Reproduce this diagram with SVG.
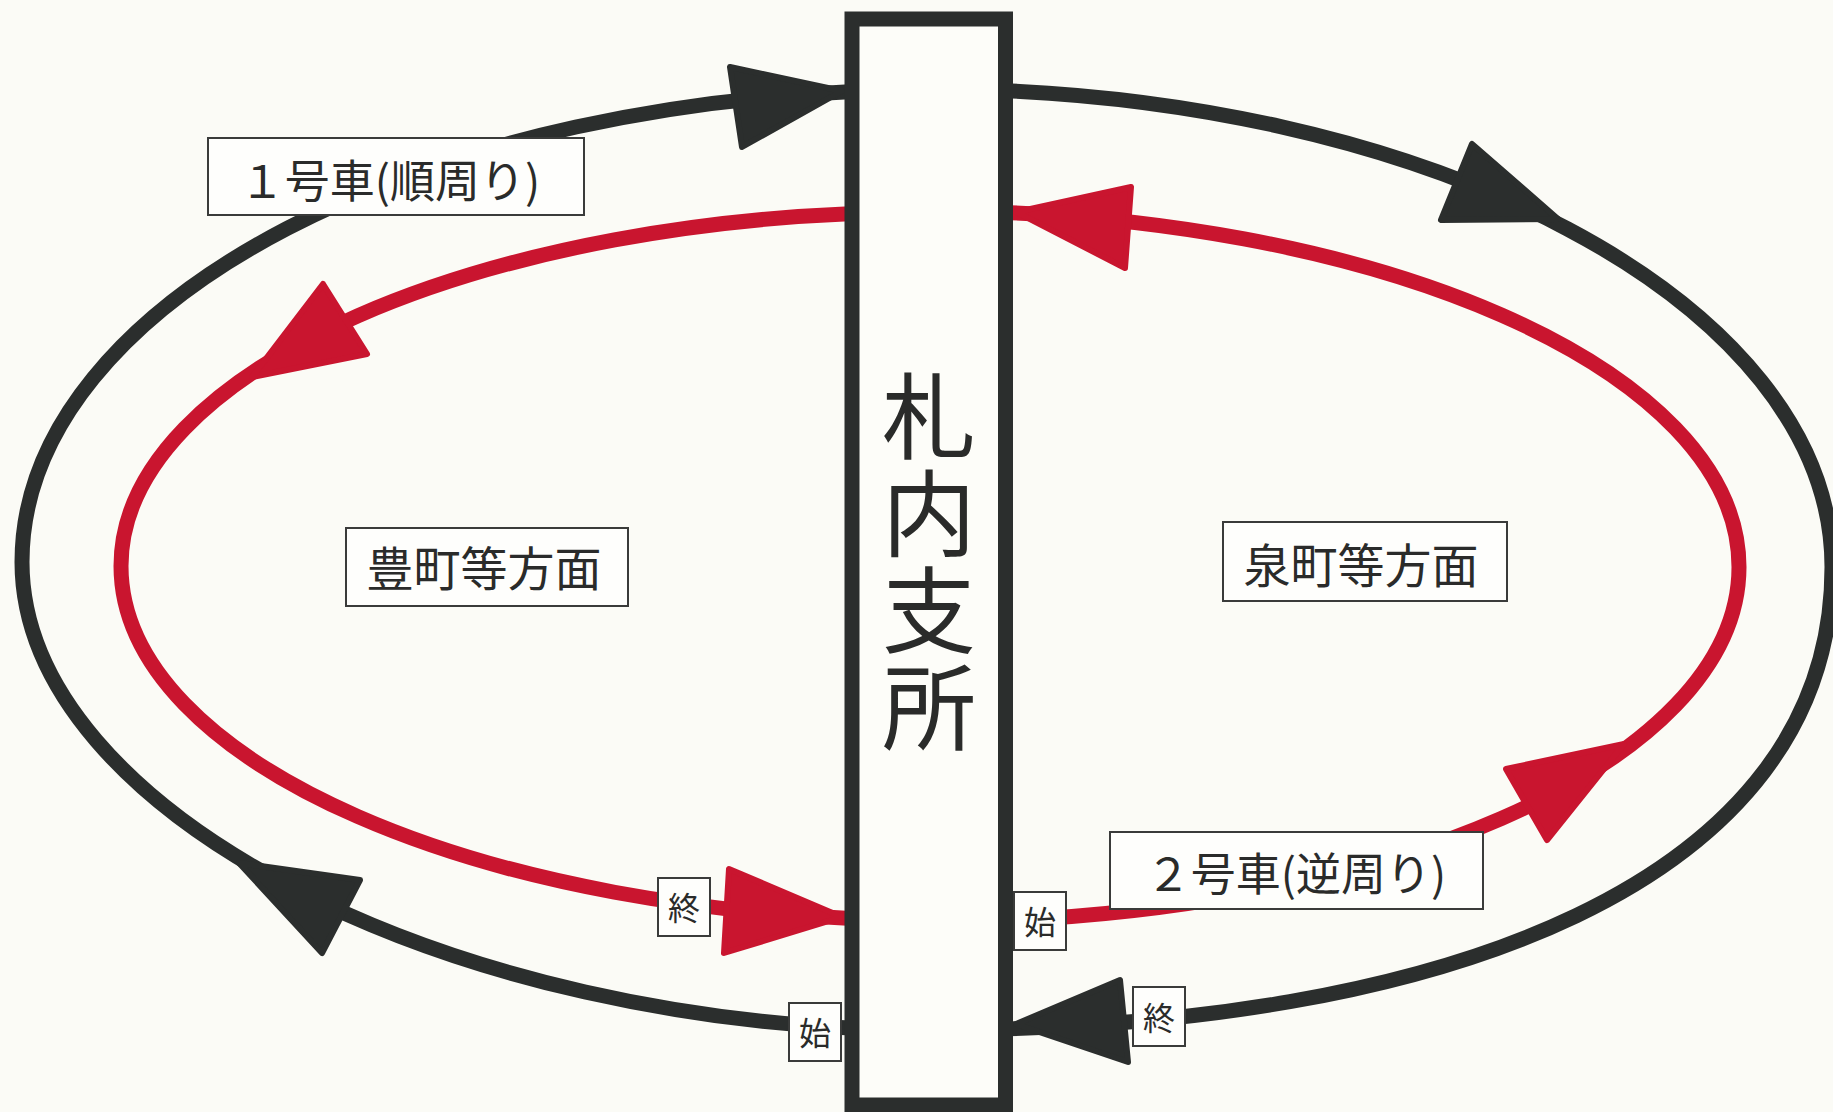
<svg xmlns="http://www.w3.org/2000/svg" width="1833" height="1112" viewBox="0 0 1833 1112">
<defs>
<style>
.bk{fill:none;stroke:#2b2e2d;stroke-width:15}
.rd{fill:none;stroke:#c9152f;stroke-width:15}
.ahb{fill:#2b2e2d;stroke:#2b2e2d;stroke-width:6;stroke-linejoin:round}
.ahr{fill:#c9152f;stroke:#c9152f;stroke-width:6;stroke-linejoin:round}
.lbl{fill:#fefefc;stroke:#3a3b3a;stroke-width:2}
.t{font-family:"Noto Sans CJK JP","Noto Sans CJK SC",sans-serif;fill:#2a2b2a;text-anchor:middle}
.v{font-family:"Noto Sans CJK JP","Noto Sans CJK SC",sans-serif;fill:#2a2b2a;writing-mode:vertical-rl;text-orientation:upright}
</style>
</defs>
<rect x="0" y="0" width="1833" height="1112" fill="#fbfbf6"/>
<g id="connectors">
<path class="bk" d="M929,1030 C450,1030 22,812 22,562 C22,301 428,90 929,90"/>
<path class="bk" d="M929,89 C1428,89 1832,303 1832,567 C1832,880 1450,1030 929,1030"/>
<path class="rd" d="M929,212 C483,212 121,371 121,566 C121,762 483,920 929,920"/>
<path class="rd" d="M929,922 C1376,922 1739,764 1739,567 C1739,370 1376,211 929,211"/>
<polygon class="ahb" points="842,91 730,67 742,147"/>
<polygon class="ahb" points="1558,219 1472,144 1441,220"/>
<polygon class="ahb" points="239,863 360,880 322,953"/>
<polygon class="ahb" points="1016,1024 1120,980 1128,1062"/>
<polygon class="ahr" points="1016,212 1131,187 1125,268"/>
<polygon class="ahr" points="252,377 323,284 367,354"/>
<polygon class="ahr" points="842,917 729,869 724,953"/>
<polygon class="ahr" points="1624,744 1506,769 1547,840"/>
</g>
<g id="office">
<rect x="852" y="19" width="153.5" height="1086" fill="#fdfdf9" stroke="#2b2e2d" stroke-width="15"/>
<text class="v" x="929" y="369" font-size="94" letter-spacing="3">札内支所</text>
</g>
<g id="car1">
<rect class="lbl" x="208" y="138" width="376" height="77"/>
<text class="t" x="390" y="198" font-size="45">１号車(順周り)</text>
</g>
<g id="car2">
<rect class="lbl" x="1110" y="832" width="373" height="77"/>
<text class="t" x="1296" y="891" font-size="45">２号車(逆周り)</text>
</g>
<g id="toyomachi">
<rect class="lbl" x="346" y="528" width="282" height="78"/>
<text class="t" x="484" y="586" font-size="47">豊町等方面</text>
</g>
<g id="izumimachi">
<rect class="lbl" x="1223" y="522" width="284" height="79"/>
<text class="t" x="1361" y="583" font-size="47">泉町等方面</text>
</g>
<g id="end-left">
<rect class="lbl" x="658" y="878" width="52" height="58"/>
<text class="t" x="684" y="920" font-size="32">終</text>
</g>
<g id="start-left">
<rect class="lbl" x="789" y="1003" width="52" height="58"/>
<text class="t" x="815" y="1045" font-size="32">始</text>
</g>
<g id="start-right">
<rect class="lbl" x="1014" y="892" width="52" height="58"/>
<text class="t" x="1040" y="934" font-size="32">始</text>
</g>
<g id="end-right">
<rect class="lbl" x="1133" y="987" width="52" height="59"/>
<text class="t" x="1159" y="1030" font-size="32">終</text>
</g>
</svg>
